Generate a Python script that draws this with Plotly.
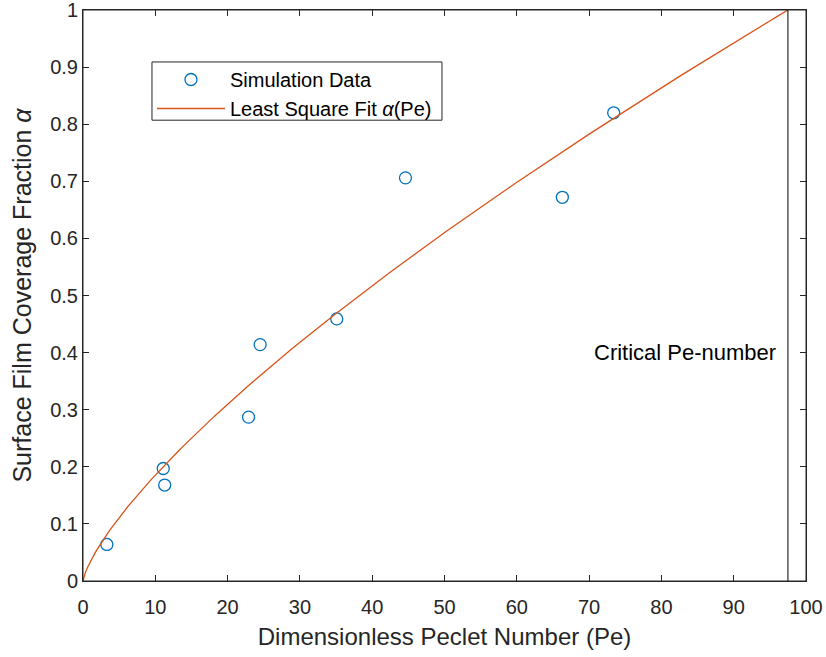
import numpy as np
import plotly.graph_objects as go

# Simulation data
pe_data = [3.3, 11.1, 11.3, 22.9, 24.5, 35.1, 44.6, 66.3, 73.4]
alpha_data = [0.064, 0.197, 0.168, 0.287, 0.414, 0.459, 0.706, 0.672, 0.820]

# Least-square power-law fit alpha = (Pe / Pe_crit) ** fit_exp
pe_crit = 97.5
fit_exp = 0.74

x_ticks = [0, 10, 20, 30, 40, 50, 60, 70, 80, 90, 100]
y_ticks = [0, 0.1, 0.2, 0.3, 0.4, 0.5, 0.6, 0.7, 0.8, 0.9, 1]
y_tick_labels = ["0", "0.1", "0.2", "0.3", "0.4", "0.5", "0.6", "0.7", "0.8", "0.9", "1"]

pe_fit = np.linspace(0, pe_crit, 300)
alpha_fit = (pe_fit / pe_crit) ** fit_exp

FONT = "Liberation Sans, Arial, sans-serif"
AX = "#262626"

fig = go.Figure()
fig.add_trace(go.Scatter(
    x=pe_data, y=alpha_data, mode="markers", name="Simulation Data",
    marker=dict(symbol="circle-open", size=12, color="#0072BD", line=dict(width=1.3, color="#0072BD")),
))
fig.add_trace(go.Scatter(
    x=pe_fit, y=alpha_fit, mode="lines", name="Least Square Fit <i>α</i>(Pe)",
    line=dict(color="#D95319", width=1.3),
))
fig.add_trace(go.Scatter(
    x=[pe_crit, pe_crit], y=[0, 1], mode="lines", showlegend=False,
    line=dict(color="black", width=1),
))

fig.add_annotation(x=pe_crit, y=0.4, text="Critical Pe-number", showarrow=False,
                   xanchor="right", xshift=-10, font=dict(family=FONT, size=22, color="black"))

# plot frame and legend box
fig.add_shape(type="rect", xref="paper", yref="paper", x0=0, x1=1, y0=0, y1=1,
              line=dict(color=AX, width=1), layer="above")
fig.add_shape(type="rect", xref="paper", yref="paper", x0=0.0954, x1=0.4965, y0=0.807, y1=0.909,
              line=dict(color=AX, width=1), fillcolor="white", layer="above")

axis_common = dict(
    showline=True, mirror="ticks", linecolor=AX, linewidth=1,
    ticks="inside", ticklen=6, tickcolor=AX, tickwidth=1,
    showgrid=False, zeroline=False, automargin=False,
    ticklabeloverflow="allow",
    tickfont=dict(family=FONT, size=20, color=AX),
)

fig.update_layout(
    width=826, height=657,
    margin=dict(l=83, r=20, t=10, b=76),
    paper_bgcolor="white", plot_bgcolor="white",
    xaxis=dict(range=[0, 100], tickvals=x_ticks, ticklabelstandoff=8,
               title=dict(text="Dimensionless Peclet Number (Pe)", font=dict(family=FONT, size=24, color=AX), standoff=11),
               **axis_common),
    yaxis=dict(range=[0, 1], tickvals=y_ticks, ticktext=y_tick_labels,
               title=dict(text="Surface Film Coverage Fraction <i>α</i>", font=dict(family=FONT, size=25, color=AX), standoff=11),
               **axis_common),
    legend=dict(x=0.0954, y=0.9124, xanchor="left", yanchor="top",
                bgcolor="rgba(0,0,0,0)", borderwidth=0,
                font=dict(family=FONT, size=20, color="black"),
                itemwidth=68, tracegroupgap=0),
    showlegend=True,
)

fig.write_html("out.html")
